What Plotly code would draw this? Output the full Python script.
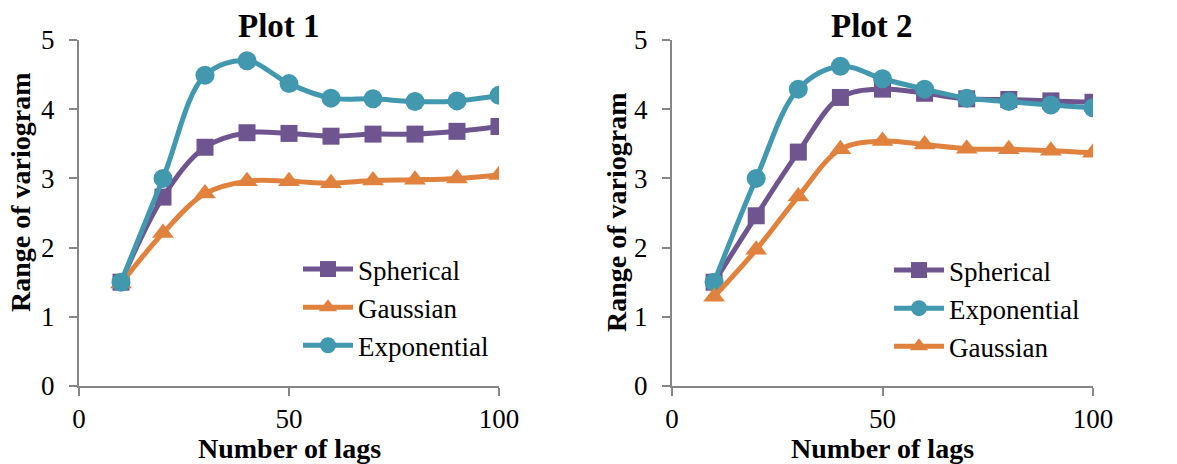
import plotly.graph_objects as go

lags = [10, 20, 30, 40, 50, 60, 70, 80, 90, 100]

# Plot 1
p1_spherical = [1.50, 2.73, 3.45, 3.66, 3.65, 3.61, 3.64, 3.64, 3.68, 3.75]
p1_gaussian = [1.48, 2.21, 2.78, 2.96, 2.96, 2.93, 2.97, 2.98, 3.00, 3.05]
p1_exponential = [1.50, 3.00, 4.49, 4.70, 4.37, 4.16, 4.15, 4.11, 4.12, 4.20]

# Plot 2
p2_spherical = [1.50, 2.46, 3.38, 4.17, 4.29, 4.23, 4.15, 4.14, 4.12, 4.10]
p2_exponential = [1.50, 3.00, 4.29, 4.62, 4.44, 4.29, 4.16, 4.11, 4.06, 4.02]
p2_gaussian = [1.29, 1.97, 2.74, 3.42, 3.54, 3.49, 3.43, 3.42, 3.40, 3.37]

x_ticks = [0, 50, 100]
y_ticks = [0, 1, 2, 3, 4, 5]

PURPLE = "#6F5590"
ORANGE = "#E0823D"
TEAL = "#4198AF"
FONT = "Liberation Serif"

W, H = 1177, 464

fig = go.Figure()

def add(y, name, color, symbol, size, xa, ya, leg):
    fig.add_trace(go.Scatter(
        x=lags, y=y, name=name, mode="lines+markers",
        line=dict(color=color, width=5, shape="spline", smoothing=1),
        marker=dict(color=color, symbol=symbol, size=size),
        xaxis=xa, yaxis=ya, legend=leg,
    ))

add(p1_spherical, "Spherical", PURPLE, "square", 17, "x", "y", "legend")
add(p1_gaussian, "Gaussian", ORANGE, "triangle-up", 19, "x", "y", "legend")
add(p1_exponential, "Exponential", TEAL, "circle", 19, "x", "y", "legend")

add(p2_spherical, "Spherical", PURPLE, "square", 17, "x2", "y2", "legend2")
add(p2_exponential, "Exponential", TEAL, "circle", 19, "x2", "y2", "legend2")
add(p2_gaussian, "Gaussian", ORANGE, "triangle-up", 19, "x2", "y2", "legend2")

axis_common = dict(
    automargin=False,
    showgrid=False, zeroline=False, showline=True, linecolor="#868686", linewidth=2,
    ticks="outside", ticklen=8, tickwidth=2, tickcolor="#868686",
    tickfont=dict(family=FONT, size=27, color="black"),
)

y_dom = [1 - 386 / H, 1 - 40 / H]

legend_common = dict(xanchor="left", yanchor="top", bgcolor="rgba(0,0,0,0)",
                     font=dict(family=FONT, size=27, color="black"),
                     tracegroupgap=0, itemwidth=50)

fig.update_layout(
    width=W, height=H, autosize=False,
    template="none",
    margin=dict(l=0, r=0, t=0, b=0, autoexpand=False),
    paper_bgcolor="white", plot_bgcolor="white",
    font=dict(family=FONT, color="black"),
    xaxis=dict(domain=[79 / W, 499 / W], range=[0, 100], tickvals=x_ticks, anchor="y", **axis_common),
    yaxis=dict(domain=y_dom, range=[0, 5], tickvals=y_ticks, anchor="x", ticklabelstandoff=9, **axis_common),
    xaxis2=dict(domain=[672 / W, 1093 / W], range=[0, 100], tickvals=x_ticks, anchor="y2", **axis_common),
    yaxis2=dict(domain=y_dom, range=[0, 5], tickvals=y_ticks, anchor="x2", ticklabelstandoff=9, **axis_common),
    legend=dict(x=298 / W, y=1 - 245 / H, **legend_common),
    legend2=dict(x=889 / W, y=1 - 246 / H, **legend_common),
    showlegend=True,
)

annots = [
    dict(text="<b>Plot 1</b>", x=279 / W, y=1 - 26 / H, size=33, angle=0),
    dict(text="<b>Plot 2</b>", x=872 / W, y=1 - 26 / H, size=33, angle=0),
    dict(text="<b>Number of lags</b>", x=289 / W, y=1 - 448 / H, size=28, angle=0),
    dict(text="<b>Number of lags</b>", x=882 / W, y=1 - 448 / H, size=28, angle=0),
    dict(text="<b>Range of variogram</b>", x=21 / W, y=1 - 192 / H, size=28, angle=-90),
    dict(text="<b>Range of variogram</b>", x=616 / W, y=1 - 212 / H, size=28, angle=-90),
]
for a in annots:
    fig.add_annotation(
        text=a["text"], x=a["x"], y=a["y"], xref="paper", yref="paper",
        xanchor="center", yanchor="middle", showarrow=False, textangle=a["angle"],
        font=dict(family=FONT, size=a["size"], color="black"),
    )

fig.write_html("out.html")
